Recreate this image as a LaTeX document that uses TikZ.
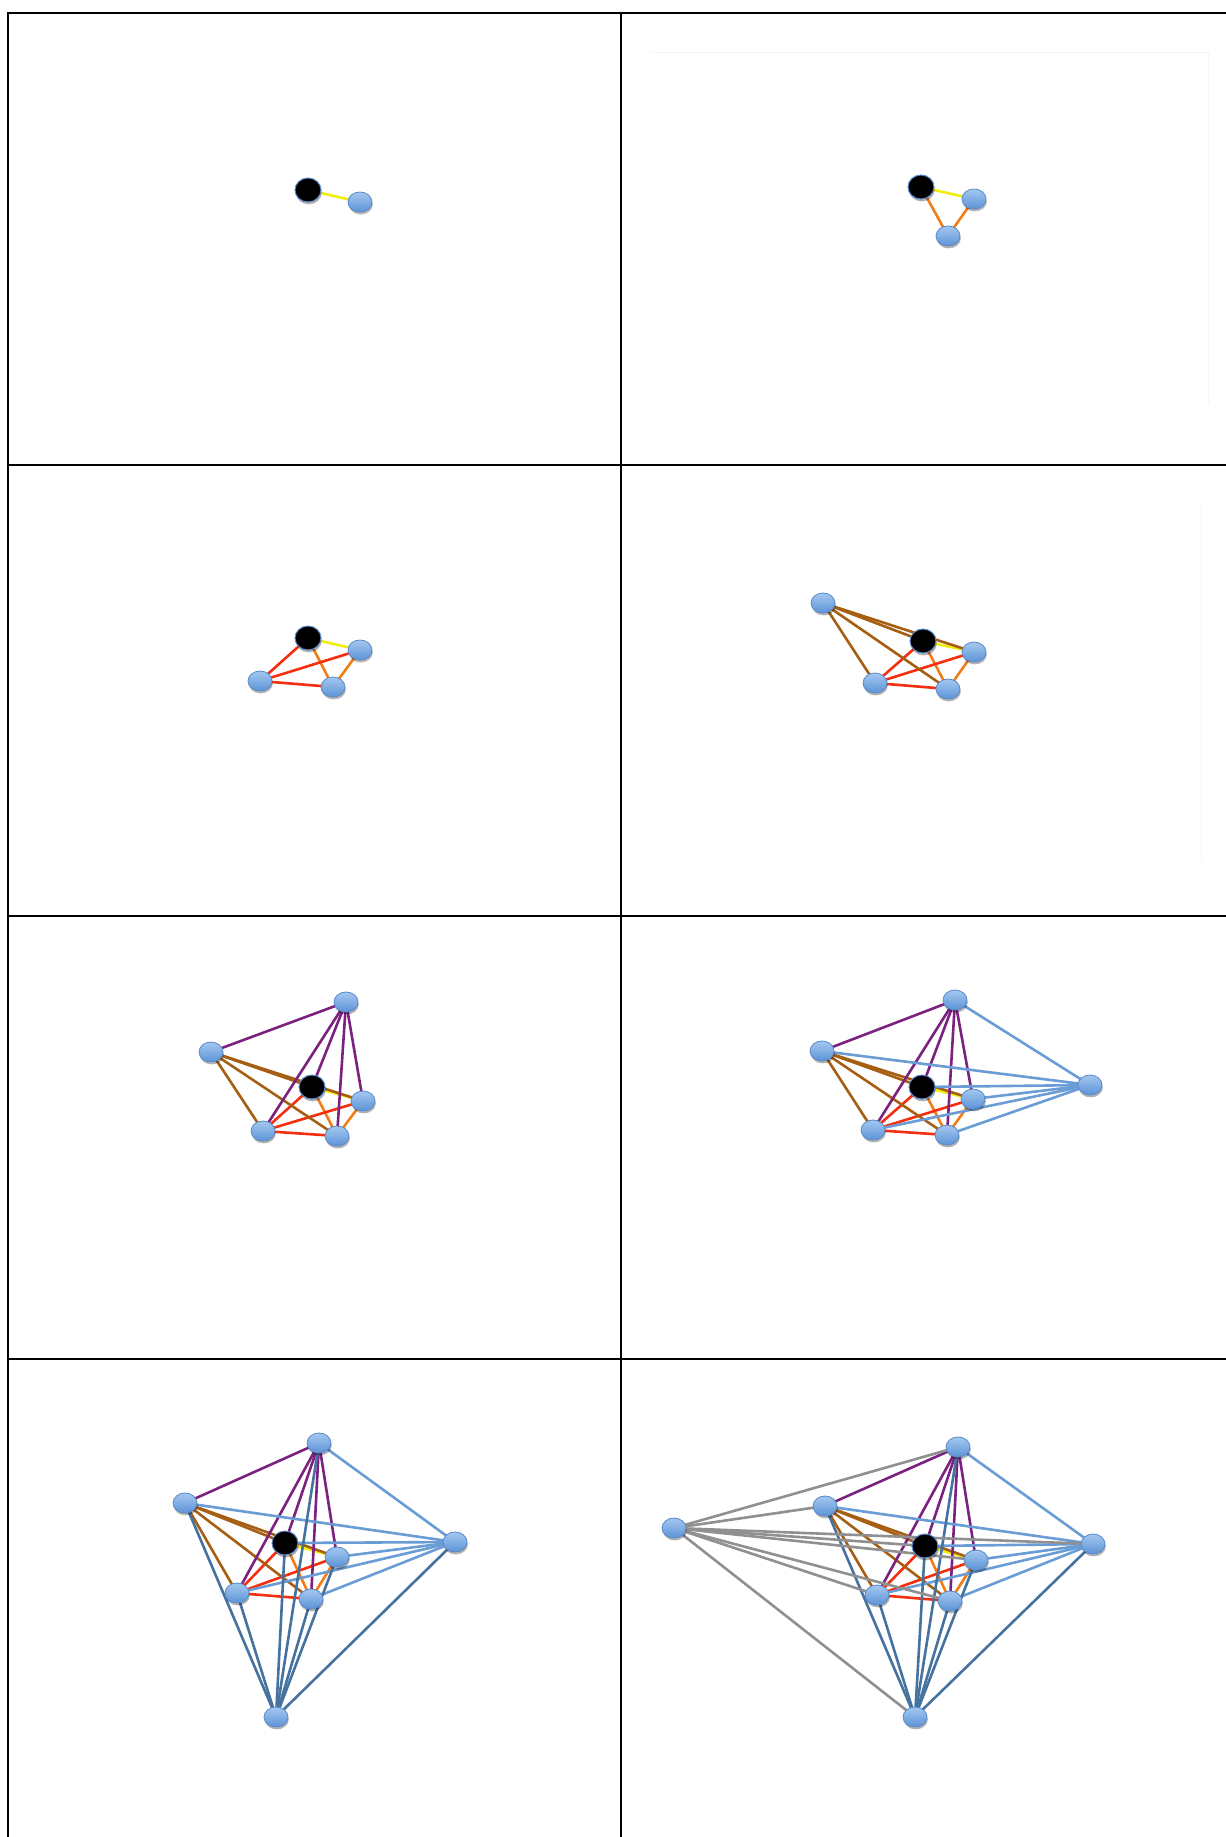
\documentclass[tikz,border=0pt]{standalone}
\usetikzlibrary{shapes.geometric,shadows}
\pgfdeclarelayer{paper}
\pgfdeclarelayer{background}
\pgfsetlayers{paper,background,main}
\definecolor{cyel}{HTML}{F2EC10}
\definecolor{cora}{HTML}{F27D16}
\definecolor{cred}{HTML}{F52E10}
\definecolor{cbro}{HTML}{A65E12}
\definecolor{cpur}{HTML}{7B2180}
\definecolor{clbl}{HTML}{6A9CD6}
\definecolor{cstb}{HTML}{46729F}
\definecolor{cgry}{HTML}{909090}
\definecolor{vtop}{HTML}{A4C8F0}
\definecolor{vbot}{HTML}{5C93D6}
\definecolor{vbrd}{HTML}{5A8ACB}
\tikzset{
  vtx/.style={ellipse, minimum width=12pt, minimum height=10pt, inner sep=0pt,
    top color=vtop, bottom color=vbot, draw=vbrd, line width=0.4pt,
    drop shadow={shadow xshift=0.4pt, shadow yshift=-1.2pt, opacity=0.3, fill=black}},
  hub/.style={ellipse, minimum width=13pt, minimum height=12pt, inner sep=0pt,
    fill=black, draw=vbrd, line width=0.5pt,
    drop shadow={shadow xshift=0.4pt, shadow yshift=-1.2pt, opacity=0.3, fill=black}},
  edge/.style={line width=1.3pt, line cap=round},
  e1/.style={edge, draw=cyel},
  e2/.style={edge, draw=cora},
  e3/.style={edge, draw=cred},
  e4/.style={edge, draw=cbro},
  e5/.style={edge, draw=cpur},
  e6/.style={edge, draw=clbl},
  e7/.style={edge, draw=cstb},
  e8/.style={edge, draw=cgry},
  grid/.style={line width=1.2pt, draw=black},
  faint/.style={line width=0.5pt, draw=black!4}
}
\begin{document}
\begin{tikzpicture}[x=0.5pt, y=-0.5pt]
\useasboundingbox (0,0) rectangle (1226,1837);
\begin{pgfonlayer}{paper}
\fill[white] (0,0) rectangle (1226,1837);
\end{pgfonlayer}
% table grid
\draw[grid] (1226,13) -- (8,13) -- (8,1837);
\draw[grid] (621,13) -- (621,1837);
\draw[grid] (8,465) -- (1226,465);
\draw[grid] (8,916) -- (1226,916);
\draw[grid] (8,1359) -- (1226,1359);
% faint paste artefacts
\draw[faint] (650,52) -- (1208,52) -- (1208,405);
\draw[faint] (1201,505) -- (1201,862);
% panel 1
\node[hub] (P1n0) at (308,190) {};
\node[vtx] (P1n1) at (360,202) {};
% panel 2
\node[hub] (P2n0) at (921,187) {};
\node[vtx] (P2n1) at (974,199) {};
\node[vtx] (P2n2) at (948,236) {};
% panel 3
\node[hub] (P3n0) at (308,638) {};
\node[vtx] (P3n1) at (360,650) {};
\node[vtx] (P3n2) at (333,687) {};
\node[vtx] (P3n3) at (260,681) {};
% panel 4
\node[hub] (P4n0) at (923,641) {};
\node[vtx] (P4n1) at (974,652) {};
\node[vtx] (P4n2) at (948,689) {};
\node[vtx] (P4n3) at (875,683) {};
\node[vtx] (P4n4) at (823,603) {};
% panel 5
\node[hub] (P5n0) at (312,1087) {};
\node[vtx] (P5n1) at (363,1101) {};
\node[vtx] (P5n2) at (337,1136) {};
\node[vtx] (P5n3) at (263,1131) {};
\node[vtx] (P5n4) at (211,1052) {};
\node[vtx] (P5n5) at (346,1002) {};
% panel 6
\node[hub] (P6n0) at (922,1087) {};
\node[vtx] (P6n1) at (973,1099) {};
\node[vtx] (P6n2) at (947,1135) {};
\node[vtx] (P6n3) at (873,1130) {};
\node[vtx] (P6n4) at (822,1051) {};
\node[vtx] (P6n5) at (955,1000) {};
\node[vtx] (P6n6) at (1090,1085) {};
% panel 7
\node[hub] (P7n0) at (285,1543) {};
\node[vtx] (P7n1) at (337,1557) {};
\node[vtx] (P7n2) at (311,1599) {};
\node[vtx] (P7n3) at (237,1593) {};
\node[vtx] (P7n4) at (185,1503) {};
\node[vtx] (P7n5) at (319,1443) {};
\node[vtx] (P7n6) at (455,1542) {};
\node[vtx] (P7n7) at (276,1717) {};
% panel 8
\node[hub] (P8n0) at (925,1546) {};
\node[vtx] (P8n1) at (976,1560) {};
\node[vtx] (P8n2) at (950,1601) {};
\node[vtx] (P8n3) at (877,1595) {};
\node[vtx] (P8n4) at (825,1506) {};
\node[vtx] (P8n5) at (958,1447) {};
\node[vtx] (P8n6) at (1093,1544) {};
\node[vtx] (P8n7) at (915,1717) {};
\node[vtx] (P8n8) at (674,1528) {};
% edges: each new node joined to all earlier ones
\begin{pgfonlayer}{background}
\foreach \p in {1,...,8}{
  \foreach \j in {1,...,\p}{
    \pgfmathtruncatemacro\jm{\j-1}
    \foreach \i in {0,...,\jm}{
      \draw[e\j] (P\p n\i.center) -- (P\p n\j.center);
    }
  }
}
\end{pgfonlayer}
\end{tikzpicture}
\end{document}
